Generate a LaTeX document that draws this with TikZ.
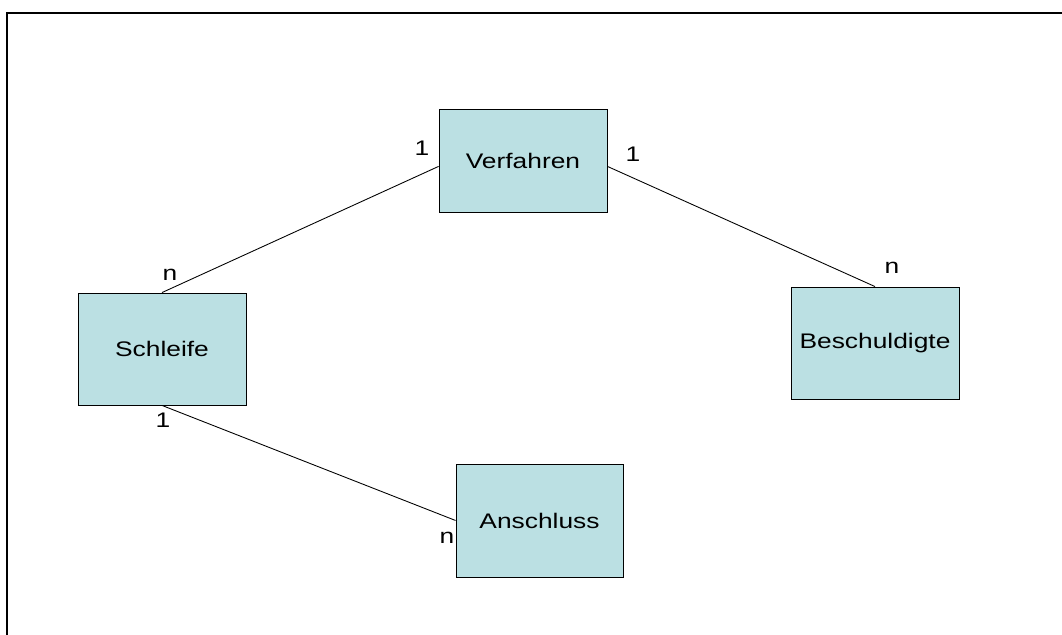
\documentclass[tikz,border=0pt]{standalone}
\usepackage{fontspec}
\newfontfamily\diafont{Liberation Sans}[FakeStretch=1.25]
\usetikzlibrary{positioning,calc}
\definecolor{boxfill}{RGB}{187,224,227}
\tikzset{
  entity/.style={draw=black,line width=0.5pt,fill=boxfill,inner sep=0pt,
    minimum width=3.36cm,minimum height=2.24cm,font=\diafont\fontsize{12}{14}\selectfont},
  card/.style={inner sep=0pt,font=\diafont\fontsize{12}{14}\selectfont},
  rel/.style={line width=0.5pt}
}
\begin{document}
\begin{tikzpicture}[x=0.02cm,y=-0.02cm]
      \useasboundingbox (0,0) rectangle (1062,635);
      % frame (cut off at right and bottom)
      \draw[line width=1.1pt] (7,640) -- (7,13) -- (1070,13);
      % entities
      \node[entity,minimum height=2.06cm] (verf) at (523,160.5) {Verfahren};
      \node[entity] (schl) at (162,349) {Schleife};
      \node[entity] (besch) at (875,343) {Beschuldigte};
      \node[entity,minimum width=3.34cm,minimum height=2.26cm] (ansch) at (539.5,520.5) {Anschluss};
      % relations
      \draw[rel] (verf.184) -- (schl.north);
      \draw[rel] (verf.-4) -- (besch.north);
      \draw[rel] (schl.south) -- (ansch.west);
      % cardinalities
      \node[card] (c1) at (422,148) {1};
      \node[card] (c2) at (170,275) {n};
      \node[card] (c3) at (633,154) {1};
      \node[card] (c4) at (892,268) {n};
      \node[card] (c5) at (163,420) {1};
      \node[card] (c6) at (447,538) {n};
    \end{tikzpicture}
\end{document}
